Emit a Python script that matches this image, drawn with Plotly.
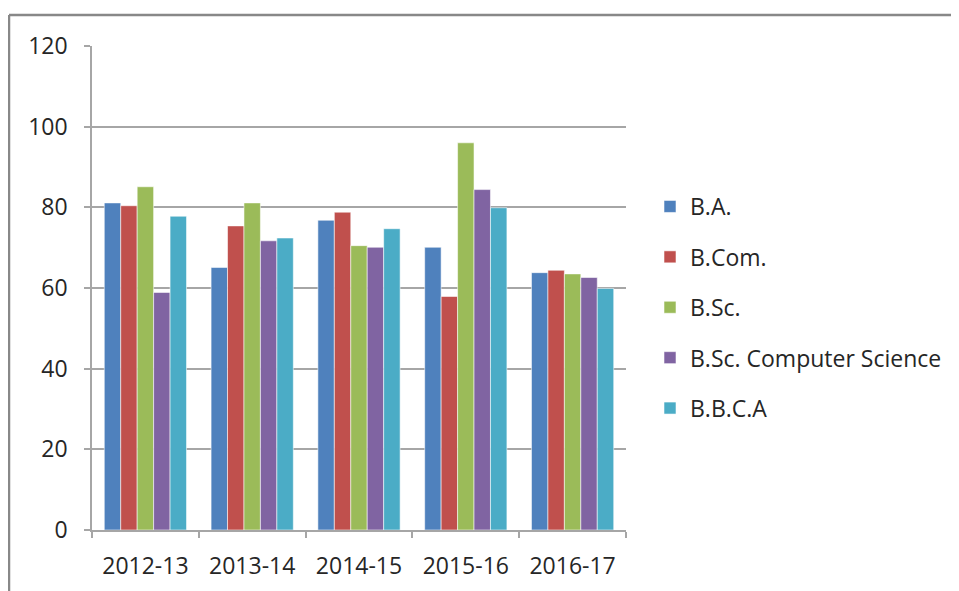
import plotly.graph_objects as go

categories = ["2012-13", "2013-14", "2014-15", "2015-16", "2016-17"]
series_names = ["B.A.", "B.Com.", "B.Sc.", "B.Sc. Computer Science", "B.B.C.A"]
ba = [81.1, 65.1, 76.8, 70.1, 63.8]
bcom = [80.4, 75.4, 78.8, 57.9, 64.4]
bsc = [85.1, 81.1, 70.5, 96.0, 63.5]
bsc_cs = [58.9, 71.7, 70.1, 84.4, 62.6]
bbca = [77.8, 72.4, 74.7, 79.9, 59.9]
series_values = [ba, bcom, bsc, bsc_cs, bbca]
colors = ["#4F81BD", "#C0504D", "#9BBB59", "#8064A2", "#4BACC6"]
y_ticks = [0, 20, 40, 60, 80, 100, 120]

W, H = 959, 591
OFF = 8  # page body margin offset
ml, mt = 92 - OFF, 46 - OFF
plot_r, plot_b = 626 - OFF, 530 - OFF
mr, mb = W - plot_r, H - plot_b
pw, ph = plot_r - ml, plot_b - mt

fig = go.Figure()
for name, vals, col in zip(series_names, series_values, colors):
    fig.add_trace(go.Bar(
        x=categories, y=vals, name=name, legendgroup=name,
        marker=dict(color=col, line=dict(color="rgba(255,255,255,0.55)", width=1)),
    ))

def px_x(p):
    return (p - OFF - ml) / pw

def px_y(p):
    return (plot_b - (p - OFF)) / ph

font = dict(family="Open Sans", size=23, color="#262626")

fig.update_layout(
    width=W, height=H,
    margin=dict(l=ml, r=mr, t=mt, b=mb, pad=0),
    paper_bgcolor="white", plot_bgcolor="white",
    barmode="group", bargap=0.23, bargroupgap=0,
    font=font,
    showlegend=True,
    legend=dict(
        x=px_x(650), xanchor="left", y=px_y(307.5), yanchor="middle",
        tracegroupgap=17.5, font=font, bgcolor="rgba(0,0,0,0)",
        itemwidth=30,
    ),
    xaxis=dict(
        showgrid=False, showline=True, linecolor="#A6A6A6", linewidth=1.5,
        ticks="outside", tickson="boundaries", ticklen=6, tickcolor="#A6A6A6",
        tickwidth=1.5, tickfont=font, ticklabelstandoff=15,
    ),
    yaxis=dict(
        range=[0, 120], tickvals=y_ticks, showgrid=True, gridcolor="#A6A6A6",
        gridwidth=1.5, showline=True, linecolor="#A6A6A6", linewidth=1.5,
        ticks="outside", ticklen=6, tickcolor="#A6A6A6", tickwidth=1.5,
        tickfont=font, zeroline=False, ticklabelstandoff=12,
    ),
    shapes=[
        dict(type="line", xref="paper", yref="paper",
             x0=px_x(9), x1=px_x(W + 20), y0=px_y(15), y1=px_y(15),
             line=dict(color="#888888", width=2.5)),
        dict(type="line", xref="paper", yref="paper",
             x0=px_x(9), x1=px_x(9), y0=px_y(15), y1=px_y(H + 20),
             line=dict(color="#888888", width=2.5)),
    ],
)

fig.write_html("out.html")
